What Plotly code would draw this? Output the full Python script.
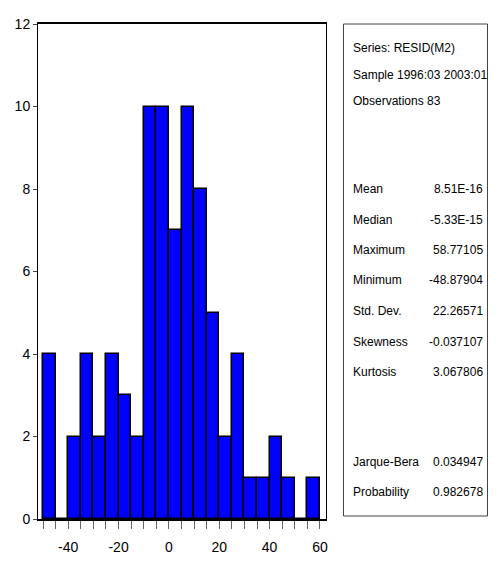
import plotly.graph_objects as go

# ---- data ----
bin_left = [-50, -45, -40, -35, -30, -25, -20, -15, -10, -5, 0, 5, 10, 15, 20, 25, 30, 35, 40, 45, 50, 55]
counts = [4, 0, 2, 4, 2, 4, 3, 2, 10, 10, 7, 10, 8, 5, 2, 4, 1, 1, 2, 1, 0, 1]
bin_width = 5
x_tick_vals = [-40, -20, 0, 20, 40, 60]
x_tick_text = ["-40", "-20", "0", "20", "40", "60"]
y_tick_vals = [0, 2, 4, 6, 8, 10, 12]

header_lines = ["Series: RESID(M2)", "Sample 1996:03 2003:01", "Observations 83"]
stat_labels = ["Mean", "Median", "Maximum", "Minimum", "Std. Dev.", "Skewness", "Kurtosis"]
stat_values = ["8.51E-16", "-5.33E-15", "58.77105", "-48.87904", "22.26571", "-0.037107", "3.067806"]
test_labels = ["Jarque-Bera", "Probability"]
test_values = ["0.034947", "0.982678"]

centers = [b + bin_width / 2 for b in bin_left]

# page body has an 8px margin: screen coordinate = figure coordinate + 8
OFF = 8
W, H = 482, 555
ML, MT = 38 - OFF, 24 - OFF
PLOT_R, PLOT_B = 326 - OFF, 519 - OFF
MR, MB = W - PLOT_R, H - PLOT_B
PW, PH = W - ML - MR, H - MT - MB
FONT = "Liberation Sans, Arial, sans-serif"


def px_x(s):
    return (s - OFF - ML) / PW


def px_y(s):
    return (PLOT_B - (s - OFF)) / PH


fig = go.Figure()
fig.add_trace(go.Bar(
    x=centers, y=counts, width=bin_width,
    marker=dict(color="#0000FF", line=dict(color="black", width=1.5)),
    hoverinfo="x+y",
))

annotations = []
label_x = px_x(351)
value_x = px_x(485)
header_y = [48, 75, 101]
for t, yy in zip(header_lines, header_y):
    annotations.append(dict(text=t, x=label_x, y=px_y(yy), xref="paper", yref="paper",
                            xanchor="left", yanchor="middle", showarrow=False))
stat_y = [189, 220, 250, 280, 311, 342, 372]
for lab, val, yy in zip(stat_labels, stat_values, stat_y):
    annotations.append(dict(text=lab, x=label_x, y=px_y(yy), xref="paper", yref="paper",
                            xanchor="left", yanchor="middle", showarrow=False))
    annotations.append(dict(text=val, x=value_x, y=px_y(yy), xref="paper", yref="paper",
                            xanchor="right", yanchor="middle", showarrow=False))
test_y = [462, 492]
for lab, val, yy in zip(test_labels, test_values, test_y):
    annotations.append(dict(text=lab, x=label_x, y=px_y(yy), xref="paper", yref="paper",
                            xanchor="left", yanchor="middle", showarrow=False))
    annotations.append(dict(text=val, x=value_x, y=px_y(yy), xref="paper", yref="paper",
                            xanchor="right", yanchor="middle", showarrow=False))

fig.update_layout(
    width=W, height=H,
    margin=dict(l=ML, r=MR, t=MT, b=MB, pad=0),
    paper_bgcolor="white", plot_bgcolor="white",
    showlegend=False,
    bargap=0,
    font=dict(family=FONT, size=12, color="black"),
    annotations=annotations,
    shapes=[dict(type="rect", xref="paper", yref="paper",
                 x0=px_x(343.5), x1=px_x(487.5), y0=px_y(516), y1=px_y(24),
                 line=dict(color="#444444", width=1), fillcolor="rgba(0,0,0,0)")],
    xaxis=dict(
        range=[-52, 62.4], tickvals=x_tick_vals, ticktext=x_tick_text,
        ticks="outside", ticklen=8,
        tickcolor="#666666", tickwidth=1, ticklabelstandoff=6,
        showline=True, linecolor="black", linewidth=2, mirror=True,
        showgrid=False, zeroline=False, automargin=False,
        tickfont=dict(family=FONT, size=14),
        minor=dict(dtick=5, tick0=0, ticks="outside", ticklen=8, tickcolor="#666666", tickwidth=1),
    ),
    yaxis=dict(
        range=[0, 12], tickvals=y_tick_vals, ticks="outside", ticklen=4,
        tickcolor="#444444", showline=True, linecolor="black", linewidth=1, mirror=True,
        showgrid=False, zeroline=False, automargin=False,
        tickfont=dict(family=FONT, size=14),
    ),
)

fig.write_html("out.html")
